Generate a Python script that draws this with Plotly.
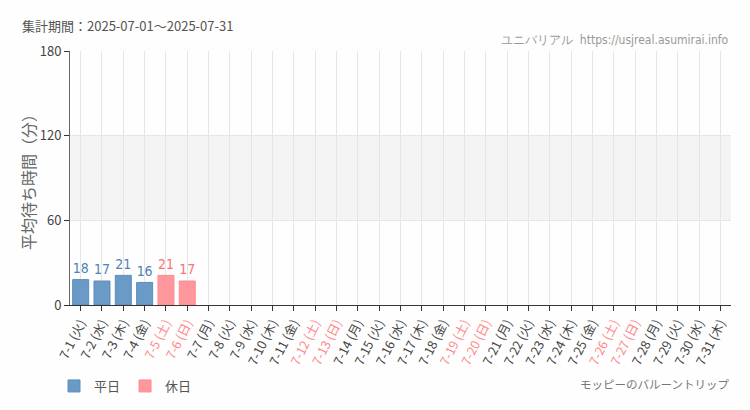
import plotly.graph_objects as go

# 集計データ (2025-07)
days = [f"7-{d}" for d in range(1, 32)]
weekdays = ["火", "水", "木", "金", "土", "日", "月"] * 4 + ["火", "水", "木"]
wait_min = [18, 17, 21, 16, 21, 17] + [None] * 25
holidays = ["土", "日"]

BLUE = "#6a9ac6"
PINK = "#ff989c"
GRAY_TXT = "#555555"
NARROW = "Liberation Sans Narrow, DejaVu Sans Condensed, sans-serif"


def make_fig():
    is_hol = [w in holidays for w in weekdays]
    ticktext = []
    for d, w, h in zip(days, weekdays, is_hol):
        lbl = f"{d}&nbsp;({w})"
        if h:
            lbl = f'<span style="color:#ff8a8e">{lbl}</span>'
        ticktext.append(lbl)

    fig = go.Figure()
    for name, flag, col, bcol, tcol in [("平日", False, BLUE, "#5d8dbd", "#4f82b8"),
                                         ("休日", True, PINK, "#ff8a90", "#ff7275")]:
        xs = [d for d, h in zip(days, is_hol) if h == flag]
        ys = [v for v, h in zip(wait_min, is_hol) if h == flag]
        fig.add_trace(go.Bar(
            x=xs, y=ys, name=name,
            marker=dict(color=col, line=dict(color=bcol, width=1)),
            text=[("" if v is None else str(v)) for v in ys],
            textposition="outside",
            textfont=dict(color=tcol, size=15, family=NARROW),
            cliponaxis=False,
        ))

    # 60-120分の帯
    fig.add_hrect(y0=60, y1=120, fillcolor="#f4f4f4", line_width=0, layer="below")

    fig.update_layout(
        width=750, height=410,
        margin=dict(l=70, r=19, t=51, b=105, autoexpand=False),
        paper_bgcolor="#fdfefd", plot_bgcolor="#fdfefd",
        barmode="overlay", bargap=0.25,
        font=dict(family="Noto Sans CJK JP, sans-serif", color=GRAY_TXT),
        showlegend=True,
        legend=dict(orientation="h", xref="container", yref="container",
                    x=0.072, y=1 - 386 / 410, xanchor="left", yanchor="middle",
                    font=dict(size=13, color=GRAY_TXT), itemwidth=30),
        annotations=[
            dict(text="集計期間：2025-07-01〜2025-07-31", xref="paper", yref="paper",
                 x=-50 / 661, y=1 + 25 / 254, xanchor="left", yanchor="middle", showarrow=False,
                 font=dict(size=13, color=GRAY_TXT)),
            dict(text="ユニバリアル  https://usjreal.asumirai.info", xref="paper", yref="paper",
                 x=1.0, y=1 + 11 / 254, xanchor="right", yanchor="middle", showarrow=False,
                 font=dict(size=12, color="#999999", family=NARROW)),
            dict(text="モッピーのバルーントリップ", xref="paper", yref="paper",
                 x=1.0, y=-79 / 254, xanchor="right", yanchor="middle", showarrow=False,
                 font=dict(size=11.5, color="#777777")),
        ],
    )
    fig.update_xaxes(
        type="category", categoryorder="array", categoryarray=days,
        tickvals=days, ticktext=ticktext, tickangle=-63, automargin=False,
        showgrid=True, gridcolor="#e6e6e6", gridwidth=1,
        ticks="outside", ticklen=5, tickcolor="#333", showline=True, linecolor="#333",
        tickfont=dict(size=12.5, color="#444444"), range=[-0.5, 30.5],
    )
    fig.update_yaxes(
        range=[0, 180], tickvals=[0, 60, 120, 180], automargin=False,
        showgrid=True, gridcolor="#e6e6e6", zeroline=False,
        ticks="outside", ticklen=5, tickcolor="#333", showline=True, linecolor="#666",
        tickfont=dict(size=13, color="#444444"),
        title=dict(text="平均待ち時間（分）", font=dict(size=16, color="#666666"), standoff=0),
    )
    return fig


if __name__ == "__main__":
    fig = make_fig()
    fig.write_html("out.html", config={"displayModeBar": False},
                   post_script="document.body.style.margin='0';")
